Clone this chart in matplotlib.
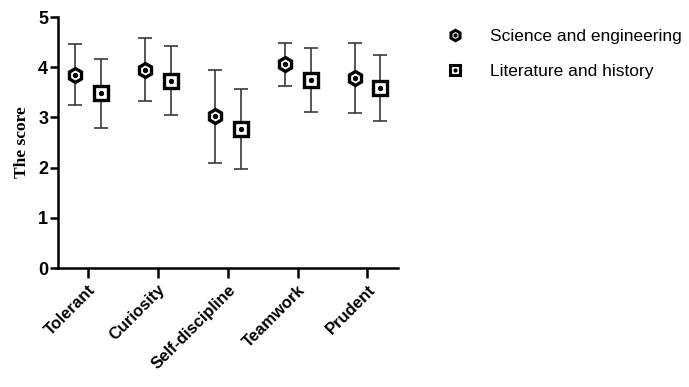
import numpy as np
import matplotlib.pyplot as plt
from matplotlib.lines import Line2D

categories = ['Tolerant', 'Curiosity', 'Self-discipline', 'Teamwork', 'Prudent']
sci_mean = [3.85, 3.95, 3.02, 4.06, 3.78]
sci_sd = [0.61, 0.63, 0.92, 0.43, 0.70]
lit_mean = [3.48, 3.73, 2.77, 3.75, 3.59]
lit_sd = [0.68, 0.69, 0.80, 0.64, 0.65]
series_names = ['Science and engineering', 'Literature and history']

fig = plt.figure(figsize=(6.89, 3.87), dpi=100)
ax = fig.add_axes([0.084, 0.307, 0.494, 0.649])

x = np.arange(len(categories))
off = 0.185

for xs, m, s, mk, ms in [(x - off, sci_mean, sci_sd, 'h', 10), (x + off, lit_mean, lit_sd, 's', 9.5)]:
    ax.errorbar(xs, m, yerr=s, fmt='none', ecolor='#3a3a3a', elinewidth=1.2,
                capsize=5, capthick=1.2, zorder=2)
    ax.plot(xs, m, linestyle='none', marker=mk, markersize=ms, markerfacecolor='white',
            markeredgecolor='black', markeredgewidth=2.4, zorder=3)
    ax.plot(xs, m, linestyle='none', marker='o', markersize=2.8, color='black', zorder=4)

ax.set_xlim(-0.43, 4.44)
ax.set_ylim(0, 5)
ax.set_yticks([0, 1, 2, 3, 4, 5])
ax.set_xticks(x)
ax.set_xticklabels(categories, rotation=45, ha='right', rotation_mode='anchor',
                   fontweight='bold', fontsize=12, family='Liberation Sans')
for lab in ax.get_yticklabels():
    lab.set_fontweight('bold')
    lab.set_fontsize(13)
    lab.set_family('Liberation Sans')
ax.set_ylabel('The score', family='Liberation Serif', fontweight='bold', fontsize=12.5,
              labelpad=6)

for sp in ['top', 'right']:
    ax.spines[sp].set_visible(False)
for sp in ['left', 'bottom']:
    ax.spines[sp].set_linewidth(1.8)
ax.tick_params(axis='x', length=7, width=1.8, pad=3)
ax.tick_params(axis='y', length=6, width=1.8, pad=1)

handles = []
for mk in ['h', 's']:
    h1 = Line2D([], [], linestyle='none', marker=mk, markersize=7.5, markerfacecolor='white',
                markeredgecolor='black', markeredgewidth=2.2)
    h2 = Line2D([], [], linestyle='none', marker='o', markersize=2, color='black')
    handles.append((h1, h2))
fig.legend(handles, series_names, loc='upper left', bbox_to_anchor=(0.625, 0.965),
           frameon=False, prop={'family': 'Liberation Sans', 'size': 12.5},
           handlelength=1.0, handletextpad=1.5, labelspacing=1.15)

fig.savefig('out.png', dpi=100)
